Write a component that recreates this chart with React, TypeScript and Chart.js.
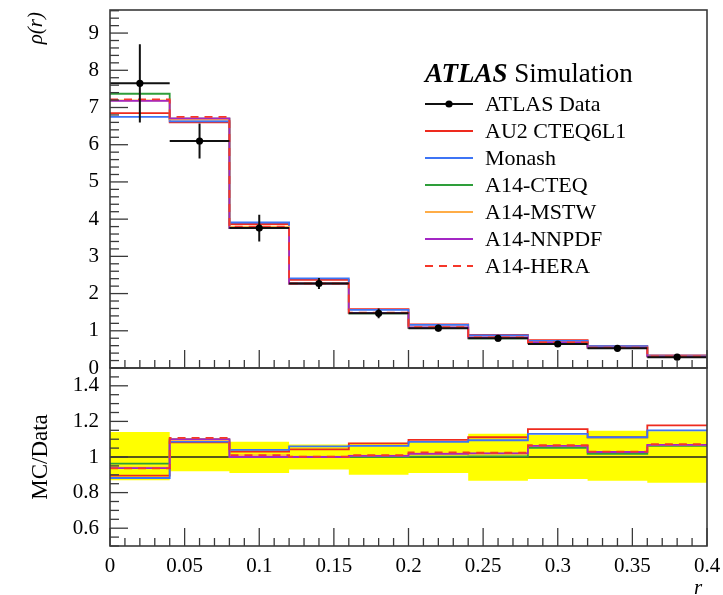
import React, { useEffect, useRef } from 'react';
import { Chart, registerables } from 'chart.js';
Chart.register(...registerables);

// ---------- data ----------
const BIN_EDGES = [0, 0.04, 0.08, 0.12, 0.16, 0.2, 0.24, 0.28, 0.32, 0.36, 0.4];
const DATA_X = [0.02, 0.06, 0.1, 0.14, 0.18, 0.22, 0.26, 0.3, 0.34, 0.38];
const DATA_Y = [7.65, 6.1, 3.76, 2.27, 1.47, 1.07, 0.8, 0.645, 0.53, 0.29];
const DATA_ERR = [1.05, 0.47, 0.36, 0.15, 0.13, 0.09, 0.09, 0.07, 0.06, 0.04];

const AU2_MAIN = [6.85, 6.6, 3.87, 2.37, 1.58, 1.17, 0.89, 0.746, 0.59, 0.34];
const MONASH_MAIN = [6.75, 6.63, 3.91, 2.41, 1.56, 1.16, 0.875, 0.73, 0.59, 0.335];
const CTEQ_MAIN = [7.37, 6.7, 3.76, 2.27, 1.47, 1.07, 0.8, 0.68, 0.54, 0.31];
const MSTW_MAIN = [7.19, 6.68, 3.8, 2.27, 1.48, 1.09, 0.82, 0.685, 0.545, 0.31];
const NNPDF_MAIN = [7.18, 6.71, 3.76, 2.27, 1.48, 1.09, 0.82, 0.685, 0.545, 0.31];
const HERA_MAIN = [7.22, 6.75, 3.8, 2.27, 1.49, 1.1, 0.82, 0.69, 0.545, 0.31];

const AU2_RATIO = [0.895, 1.082, 1.03, 1.043, 1.077, 1.096, 1.111, 1.157, 1.111, 1.178];
const MONASH_RATIO = [0.882, 1.087, 1.04, 1.06, 1.062, 1.085, 1.094, 1.13, 1.111, 1.15];
const CTEQ_RATIO = [0.963, 1.098, 1.0, 1.0, 1.0, 1.002, 1.004, 1.052, 1.017, 1.062];
const MSTW_RATIO = [0.94, 1.095, 1.01, 1.002, 1.008, 1.02, 1.02, 1.062, 1.028, 1.068];
const NNPDF_RATIO = [0.938, 1.1, 1.0, 1.0, 1.006, 1.017, 1.02, 1.062, 1.028, 1.068];
const HERA_RATIO = [0.936, 1.107, 1.011, 1.002, 1.011, 1.026, 1.024, 1.066, 1.03, 1.072];

const BAND_LO = [0.87, 0.92, 0.91, 0.93, 0.9, 0.91, 0.866, 0.876, 0.866, 0.855];
const BAND_HI = [1.14, 1.105, 1.086, 1.07, 1.08, 1.09, 1.13, 1.124, 1.147, 1.145];

const MAIN_Y_TICKS = [0, 1, 2, 3, 4, 5, 6, 7, 8, 9];
const RATIO_Y_TICKS = [0.6, 0.8, 1, 1.2, 1.4];
const X_TICKS = [0, 0.05, 0.1, 0.15, 0.2, 0.25, 0.3, 0.35, 0.4];
const X_TICK_LABELS = ['0', '0.05', '0.1', '0.15', '0.2', '0.25', '0.3', '0.35', '0.4'];

const SERIES = [
  { label: 'AU2 CTEQ6L1', color: '#ee2a1e', dash: false, main: AU2_MAIN, ratio: AU2_RATIO },
  { label: 'Monash', color: '#3d74f5', dash: false, main: MONASH_MAIN, ratio: MONASH_RATIO },
  { label: 'A14-CTEQ', color: '#2e9e3a', dash: false, main: CTEQ_MAIN, ratio: CTEQ_RATIO },
  { label: 'A14-MSTW', color: '#ffad47', dash: false, main: MSTW_MAIN, ratio: MSTW_RATIO },
  { label: 'A14-NNPDF', color: '#a326c4', dash: false, main: NNPDF_MAIN, ratio: NNPDF_RATIO },
  { label: 'A14-HERA', color: '#f5372a', dash: true, main: HERA_MAIN, ratio: HERA_RATIO },
];

const FONT = '"Liberation Serif", "DejaVu Serif", serif';

// histogram outline: value of bin i held from edge i to edge i+1 (closing edge repeats last bin)
function hist(values: number[]) {
  return BIN_EDGES.map((x, i) => ({ x, y: values[Math.min(i, values.length - 1)] }));
}

function framePlugin(xMinor: number, xMajor: number, yMinor: number, yMajor: number) {
  return {
    id: 'frameTicks',
    afterDraw(chart: any) {
      const { ctx, chartArea: a, scales } = chart;
      const xs = scales.x;
      const ys = scales.y;
      ctx.save();
      ctx.strokeStyle = '#3a3a3a';
      ctx.lineWidth = 1.3;
      const isMajor = (v: number, m: number) => Math.abs(v / m - Math.round(v / m)) < 1e-6;
      const nx = Math.round((xs.max - xs.min) / xMinor);
      for (let i = 0; i <= nx; i++) {
        const v = xs.min + i * xMinor;
        const px = xs.getPixelForValue(v);
        const len = isMajor(v, xMajor) ? 18 : 8;
        ctx.beginPath();
        ctx.moveTo(px, a.bottom);
        ctx.lineTo(px, a.bottom - len);
        ctx.stroke();
      }
      const start = Math.ceil(ys.min / yMinor - 1e-6);
      const end = Math.floor(ys.max / yMinor + 1e-6);
      for (let i = start; i <= end; i++) {
        const v = i * yMinor;
        const py = ys.getPixelForValue(v);
        const len = isMajor(v, yMajor) ? 18 : 9;
        ctx.beginPath();
        ctx.moveTo(a.left, py);
        ctx.lineTo(a.left + len, py);
        ctx.stroke();
      }
      ctx.lineWidth = 1.6;
      ctx.strokeRect(a.left, a.top, a.right - a.left, a.bottom - a.top);
      ctx.restore();
    },
  };
}

const errPlugin = {
  id: 'errBars',
  afterDatasetsDraw(chart: any) {
    const { ctx, scales } = chart;
    const xs = scales.x;
    const ys = scales.y;
    ctx.save();
    ctx.strokeStyle = '#111';
    ctx.lineWidth = 2;
    DATA_X.forEach((x, i) => {
      const px = xs.getPixelForValue(x);
      const py = ys.getPixelForValue(DATA_Y[i]);
      ctx.beginPath();
      ctx.moveTo(xs.getPixelForValue(BIN_EDGES[i]), py);
      ctx.lineTo(xs.getPixelForValue(BIN_EDGES[i + 1]), py);
      ctx.moveTo(px, ys.getPixelForValue(DATA_Y[i] + DATA_ERR[i]));
      ctx.lineTo(px, ys.getPixelForValue(DATA_Y[i] - DATA_ERR[i]));
      ctx.stroke();
      ctx.beginPath();
      ctx.fillStyle = '#000';
      ctx.arc(px, py, 3.6, 0, Math.PI * 2);
      ctx.fill();
    });
    ctx.restore();
  },
};

const legendPlugin = {
  id: 'atlasLegend',
  afterDraw(chart: any) {
    const { ctx } = chart;
    ctx.save();
    ctx.textBaseline = 'middle';
    ctx.fillStyle = '#000';
    ctx.font = `italic bold 27px ${FONT}`;
    ctx.fillText('ATLAS', 425, 75);
    const w = ctx.measureText('ATLAS').width;
    ctx.font = `27px ${FONT}`;
    ctx.fillText(' Simulation', 425 + w, 75);

    const x0 = 425, x1 = 473, tx = 485;
    let y = 104;
    const step = 27;
    ctx.font = `22px ${FONT}`;
    ctx.strokeStyle = '#111';
    ctx.lineWidth = 2;
    ctx.beginPath();
    ctx.moveTo(x0, y);
    ctx.lineTo(x1, y);
    ctx.stroke();
    ctx.beginPath();
    ctx.arc((x0 + x1) / 2, y, 3.6, 0, Math.PI * 2);
    ctx.fill();
    ctx.fillText('ATLAS Data', tx, y + 1);
    SERIES.forEach((s) => {
      y += step;
      ctx.strokeStyle = s.color;
      ctx.lineWidth = 1.8;
      ctx.setLineDash(s.dash ? [8, 6] : []);
      ctx.beginPath();
      ctx.moveTo(x0, y);
      ctx.lineTo(x1, y);
      ctx.stroke();
      ctx.setLineDash([]);
      ctx.fillStyle = '#000';
      ctx.fillText(s.label, tx, y + 1);
    });
    ctx.translate(36, 12);
    ctx.rotate(-Math.PI / 2);
    ctx.font = `italic 21px ${FONT}`;
    ctx.textAlign = 'right';
    ctx.fillText('\u03C1(r)', 0, 0);
    ctx.restore();
  },
};

const ratioTitlePlugin = {
  id: 'ratioTitles',
  afterDraw(chart: any) {
    const { ctx, chartArea: a } = chart;
    ctx.save();
    ctx.fillStyle = '#000';
    ctx.font = `italic 21px ${FONT}`;
    ctx.textAlign = 'center';
    ctx.textBaseline = 'middle';
    ctx.fillText('r', 698, 233);
    ctx.translate(41, (a.top + a.bottom) / 2);
    ctx.rotate(-Math.PI / 2);
    ctx.font = `23px ${FONT}`;
    ctx.fillText('MC/Data', 0, 0);
    ctx.restore();
  },
};

const tickFont = { family: FONT, size: 21 };

const fitY = (s: any) => {
  s.width = 110;
  s.paddingTop = 0;
  s.paddingBottom = 0;
};
const fitX = (s: any) => {
  s.height = 49;
  s.paddingLeft = 0;
  s.paddingRight = 0;
};

function mcLines(key: 'main' | 'ratio') {
  return SERIES.map((s, idx) => ({
    label: s.label,
    data: hist(s[key]),
    borderColor: s.color,
    borderWidth: 1.8,
    borderDash: s.dash ? [8, 6] : [],
    stepped: 'before' as const,
    pointRadius: 0,
    fill: false,
    order: SERIES.length - idx,
  }));
}

export default function App() {
  const mainRef = useRef<HTMLCanvasElement>(null);
  const ratioRef = useRef<HTMLCanvasElement>(null);

  useEffect(() => {
    const main = new Chart(mainRef.current as HTMLCanvasElement, {
      type: 'line',
      data: { datasets: mcLines('main') },
      options: {
        responsive: false,
        animation: false,
        layout: { padding: { top: 10, bottom: 12, left: 0, right: 16 } },
        plugins: { legend: { display: false }, tooltip: { enabled: false } },
        scales: {
          x: { type: 'linear', min: 0, max: 0.4, display: false },
          y: {
            type: 'linear',
            min: 0,
            max: 9.62,
            grid: { display: false, drawTicks: false },
            border: { display: false },
            afterBuildTicks: (s: any) => {
              s.ticks = MAIN_Y_TICKS.map((v) => ({ value: v }));
            },
            afterFit: fitY,
            ticks: { padding: 11, font: tickFont, color: '#000', callback: (v: any) => String(v) },
          },
        },
      } as any,
      plugins: [framePlugin(0.01, 0.05, 0.2, 1), errPlugin, legendPlugin],
    });

    const ratio = new Chart(ratioRef.current as HTMLCanvasElement, {
      type: 'line',
      data: {
        datasets: [
          {
            label: 'band-lo',
            data: hist(BAND_LO),
            borderWidth: 0,
            pointRadius: 0,
            stepped: 'before' as const,
            fill: false,
            order: 101,
          },
          {
            label: 'band-hi',
            data: hist(BAND_HI),
            borderWidth: 0,
            pointRadius: 0,
            stepped: 'before' as const,
            fill: '-1',
            backgroundColor: '#ffff00',
            order: 100,
          },
          {
            label: 'ATLAS Data',
            data: [
              { x: BIN_EDGES[0], y: 1 },
              { x: BIN_EDGES[BIN_EDGES.length - 1], y: 1 },
            ],
            borderColor: '#222',
            borderWidth: 1.5,
            pointRadius: 0,
            fill: false,
            order: 50,
          },
          ...mcLines('ratio'),
        ],
      },
      options: {
        responsive: false,
        animation: false,
        layout: { padding: { top: 13, bottom: 0, left: 0, right: 16 } },
        plugins: { legend: { display: false }, tooltip: { enabled: false } },
        scales: {
          x: {
            type: 'linear',
            min: 0,
            max: 0.4,
            grid: { display: false, drawTicks: false },
            border: { display: false },
            afterBuildTicks: (s: any) => {
              s.ticks = X_TICKS.map((v) => ({ value: v }));
            },
            afterFit: fitX,
            ticks: {
              padding: 8,
              autoSkip: false,
              maxRotation: 0,
              font: tickFont,
              color: '#000',
              callback: (_v: any, i: number) => X_TICK_LABELS[i],
            },
          },
          y: {
            type: 'linear',
            min: 0.5,
            max: 1.5,
            grid: { display: false, drawTicks: false },
            border: { display: false },
            afterBuildTicks: (s: any) => {
              s.ticks = RATIO_Y_TICKS.map((v) => ({ value: v }));
            },
            afterFit: fitY,
            ticks: { padding: 11, font: tickFont, color: '#000', callback: (v: any) => String(v) },
          },
        },
      } as any,
      plugins: [framePlugin(0.01, 0.05, 0.05, 0.2), ratioTitlePlugin],
    });

    return () => {
      main.destroy();
      ratio.destroy();
    };
  }, []);

  return (
    <div style={{ position: 'fixed', left: 0, top: 0, width: 723, height: 595, background: '#fff' }}>
      <canvas ref={mainRef} width={723} height={380} style={{ position: 'absolute', left: 0, top: 0 }} />
      <canvas ref={ratioRef} width={723} height={240} style={{ position: 'absolute', left: 0, top: 355 }} />
    </div>
  );
}
